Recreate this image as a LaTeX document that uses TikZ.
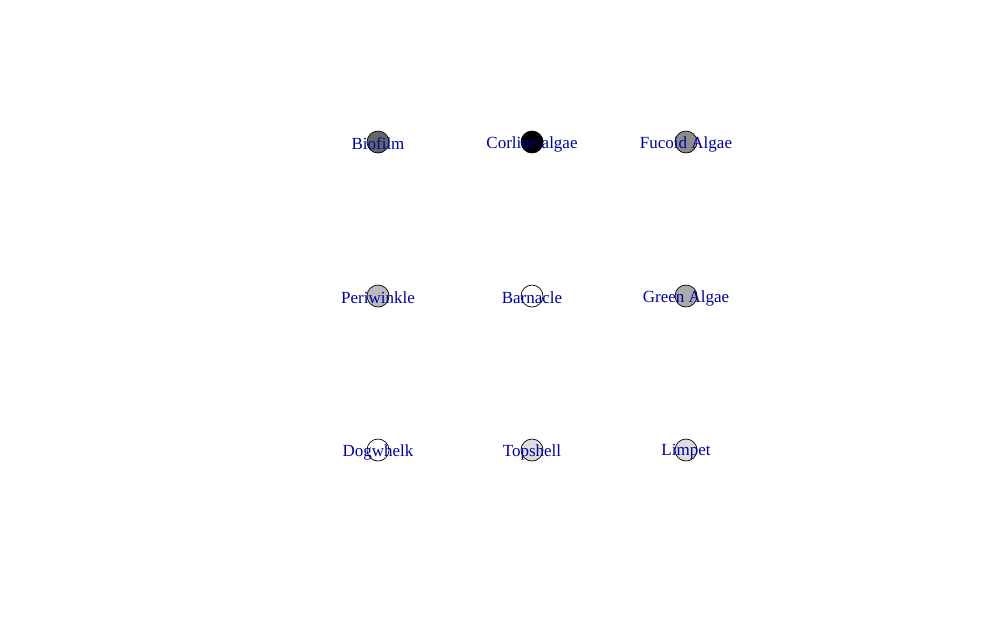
\documentclass[tikz,border=0pt]{standalone}
\usepackage{fontspec}
\setmainfont{Liberation Serif}
\usetikzlibrary{positioning}

\definecolor{labelblue}{RGB}{0,0,160}
\definecolor{biofilmgray}{RGB}{102,102,102}
\definecolor{fucoidgray}{RGB}{140,140,140}
\definecolor{greengray}{RGB}{170,170,170}
\definecolor{perigray}{RGB}{187,187,187}
\definecolor{lightgray}{RGB}{221,221,221}

\begin{document}
\begin{tikzpicture}[
x=1pt, y=-1pt,
node distance=131.3pt and 131.3pt,
vertex/.style={circle, draw, minimum size=22pt, inner sep=0pt, line width=0.7pt},
tag/.style={text=labelblue, font=\fontsize{17}{20}\selectfont, inner sep=0pt, yshift=-2pt}
]
\useasboundingbox (0,0) rectangle (1008,622);

% TOP ROW
\node (bio) [vertex, fill=biofilmgray] at (378,142) {};
\node (corline) [vertex, fill=black, right=of bio] {};
\node (fucoid) [vertex, fill=fucoidgray, right=of corline] {};

% MIDDLE ROW
\node (peri) [vertex, fill=perigray, below=of bio] {};
\node (barnacle) [vertex, fill=white, right=of peri] {};
\node (green) [vertex, fill=greengray, right=of barnacle] {};

% BOTTOM ROW
\node (dog) [vertex, fill=white, below=of peri] {};
\node (top) [vertex, fill=lightgray, right=of dog] {};
\node (limpet) [vertex, fill=lightgray, right=of top] {};

% LABELS
\node (bioLab) [tag] at (bio) {Biofilm};
\node (corlineLab) [tag] at (corline) {Corline algae};
\node (fucoidLab) [tag] at (fucoid) {Fucoid Algae};
\node (periLab) [tag] at (peri) {Periwinkle};
\node (barnacleLab) [tag] at (barnacle) {Barnacle};
\node (greenLab) [tag] at (green) {Green Algae};
\node (dogLab) [tag] at (dog) {Dogwhelk};
\node (topLab) [tag] at (top) {Topshell};
\node (limpetLab) [tag] at (limpet) {Limpet};

\end{tikzpicture}
\end{document}
